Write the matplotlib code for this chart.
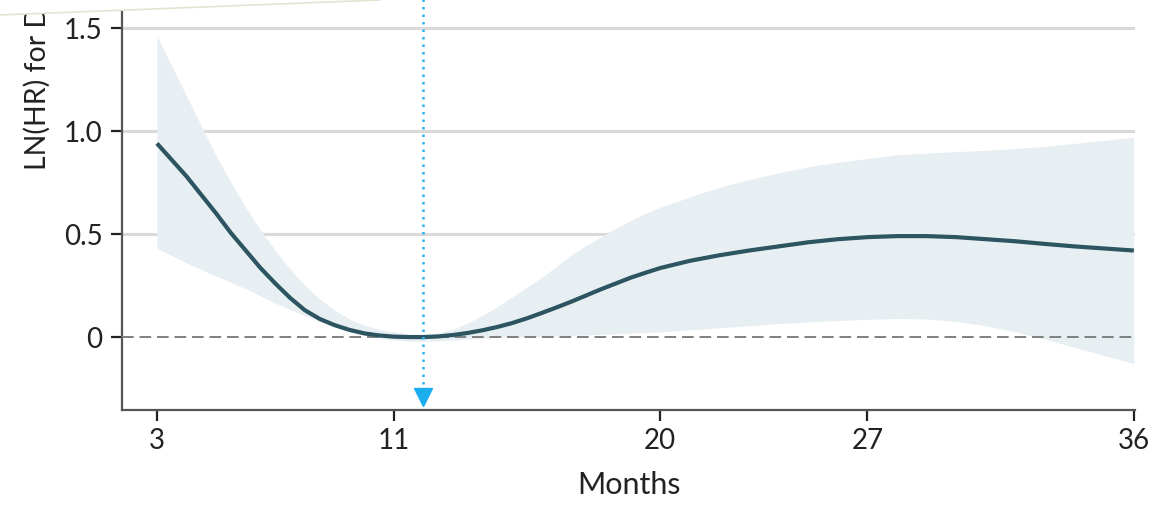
import matplotlib
matplotlib.use("Agg")
import matplotlib.pyplot as plt
from matplotlib.patches import Polygon
from matplotlib.lines import Line2D

# estimated curve (months vs LN(HR))
months = [3, 3.5, 4, 4.5, 5, 5.5, 6, 6.5, 7, 7.5, 8, 8.5, 9, 9.5, 10, 10.5,
          11, 11.5, 12, 12.5, 13, 13.5, 14, 14.5, 15, 15.5, 16, 16.5, 17,
          17.5, 18, 18.5, 19, 19.5, 20, 21, 22, 23, 24, 25, 26, 27, 28, 29,
          30, 31, 32, 33, 34, 35, 36]
ln_hr = [0.94, 0.86, 0.78, 0.69, 0.60, 0.505, 0.42, 0.335, 0.26, 0.19, 0.13,
         0.088, 0.058, 0.035, 0.018, 0.008, 0.002, 0.0, 0.0, 0.003, 0.01,
         0.02, 0.033, 0.049, 0.068, 0.091, 0.117, 0.144, 0.172, 0.202, 0.232,
         0.26, 0.288, 0.312, 0.335, 0.37, 0.397, 0.42, 0.44, 0.46, 0.475,
         0.485, 0.49, 0.49, 0.485, 0.475, 0.465, 0.452, 0.44, 0.43, 0.42]
ci_upper = [1.46, 1.315, 1.17, 1.025, 0.88, 0.75, 0.63, 0.52, 0.42, 0.33,
            0.25, 0.185, 0.13, 0.088, 0.057, 0.037, 0.025, 0.015, 0.012, 0.02,
            0.038, 0.068, 0.106, 0.148, 0.195, 0.242, 0.29, 0.344, 0.398,
            0.445, 0.487, 0.528, 0.567, 0.6, 0.63, 0.68, 0.727, 0.765, 0.797,
            0.827, 0.848, 0.867, 0.885, 0.893, 0.90, 0.907, 0.915, 0.925,
            0.94, 0.955, 0.97]
ci_lower = [0.43, 0.395, 0.36, 0.327, 0.295, 0.265, 0.235, 0.2, 0.165, 0.133,
            0.105, 0.076, 0.05, 0.028, 0.01, -0.005, -0.015, -0.02, -0.02,
            -0.018, -0.015, -0.01, -0.005, -0.002, 0.0, 0.002, 0.003, 0.005,
            0.008, 0.01, 0.013, 0.016, 0.019, 0.022, 0.025, 0.035, 0.045,
            0.055, 0.065, 0.073, 0.08, 0.086, 0.09, 0.088, 0.075, 0.055,
            0.025, -0.01, -0.05, -0.09, -0.128]

x_ticks = [3, 11, 20, 27, 36]
y_ticks = [0, 0.5, 1.0, 1.5]
y_tick_labels = ["0", "0.5", "1.0", "1.5"]
cutoff_month = 12

plt.rcParams['font.family'] = ['Lato', 'DejaVu Sans']

W, H = 1153, 505
fig = plt.figure(figsize=(W / 100, H / 100), dpi=100)
ax = fig.add_axes([122 / W, (H - 410) / H, (1135 - 122) / W, 410 / H])

# grid lines
for yv in [0.5, 1.0, 1.5]:
    ax.axhline(yv, color='#dadada', lw=2.2, zorder=1)

ax.fill_between(months, ci_lower, ci_upper, color='#e8eff3', lw=0, zorder=2)
ax.axhline(0, color='#7f7f7f', lw=1.4, ls=(0, (6, 3)), zorder=3)
ax.plot(months, ln_hr, color='#2c5561', lw=3, solid_capstyle='butt',
        solid_joinstyle='round', zorder=4)

# dotted cutoff line with arrow head
ax.plot([cutoff_month, cutoff_month], [1.7, -0.27], color='#2eb2ee',
        lw=1.8, ls=(0, (1, 2)), zorder=5)
ax.plot([cutoff_month], [-0.29], marker='v', ms=13, color='#1aaeee',
        mec='#1aaeee', zorder=6)

ax.set_xlim(1.82, 36.04)
ax.set_ylim(-0.354, 1.636)

ax.set_xticks(x_ticks)
ax.set_xticklabels([str(v) for v in x_ticks])
ax.set_yticks(y_ticks)
ax.set_yticklabels(y_tick_labels)
ax.tick_params(axis='both', labelsize=20, colors='#222222', length=8,
               width=1.6, direction='out')
ax.tick_params(axis='y', pad=6)
ax.tick_params(axis='x', pad=5)

for side in ['top', 'right']:
    ax.spines[side].set_visible(False)
for side in ['left', 'bottom']:
    ax.spines[side].set_color('#555555')
    ax.spines[side].set_linewidth(1.6)

ax.set_xlabel('Months', fontsize=22, color='#222222', labelpad=12)

# y label, cut by the page edge in the original
fig.text(37 / W, 1 - 170 / H, 'LN(HR) for D', rotation=90, fontsize=20.5,
         color='#222222', ha='center', va='bottom')

# page edge cutting the top-left corner
x0, y0, x1, y1 = 0, 1 - 15 / H, 380 / W, 1.0
fig.patches.append(Polygon([[x0, y0], [x1, y1], [0, 1.0]], closed=True,
                           transform=fig.transFigure, fc='white', ec='none',
                           zorder=20))
fig.lines.append(Line2D([x0, x1], [y0, y1], transform=fig.transFigure,
                        color='#e6e2d4', lw=1.2, zorder=21))

fig.savefig('out.png', dpi=100)
